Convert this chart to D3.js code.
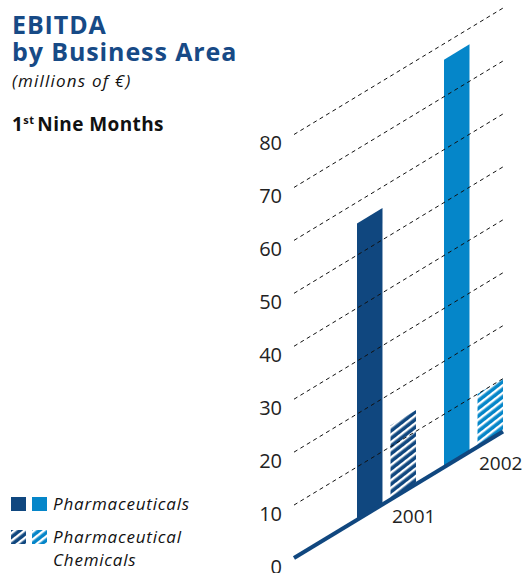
<!DOCTYPE html>
<html>
<head>
<meta charset="utf-8">
<script src="https://cdn.jsdelivr.net/npm/d3@7"></script>
<style>
  body { margin: 0; background: #fff; }
  svg { display: block; font-family: "Open Sans", "Noto Sans", sans-serif; }
</style>
</head>
<body>
<script>
// data (millions of euro, 1st nine months)
var years = ["2001", "2002"];
var series = ["Pharmaceuticals", "Pharmaceutical Chemicals"];
var pharma = [56, 77];
var chemicals = [14, 10];
var ticks = [0, 10, 20, 30, 40, 50, 60, 70, 80];

var W = 524, H = 573;
var darkBlue = "#10477f", lightBlue = "#0586c9", titleBlue = "#174a86";
var slope = 0.605;   // the whole floor is tilted up to the right
var x0 = 294, xEnd = 503;

var svg = d3.select("body").append("svg").attr("width", W).attr("height", H);

var y = d3.scaleLinear().domain([0, 80]).range([558, 134.5]);
function skewY(v, x) { return y(v) - slope * (x - x0); }

var xYear = d3.scaleBand().domain(years).range([357, 503]).paddingInner(0.322).paddingOuter(0);
var xSer = d3.scaleBand().domain(series).range([0, xYear.bandwidth()]).paddingInner(0.24);

// hatch patterns for the chemicals bars
var defs = svg.append("defs");
[["hatchDark", darkBlue], ["hatchLight", lightBlue]].forEach(function(p) {
  var pat = defs.append("pattern").attr("id", p[0]).attr("patternUnits", "userSpaceOnUse")
    .attr("width", 6).attr("height", 6).attr("patternTransform", "rotate(-38)");
  pat.append("rect").attr("width", 6).attr("height", 6).attr("fill", p[1]);
  pat.append("rect").attr("y", 0).attr("width", 6).attr("height", 2.4).attr("fill", "#fff");
});

var bars = [];
years.forEach(function(yr, i) {
  bars.push({ year: yr, ser: series[0], v: pharma[i], fill: i === 0 ? darkBlue : lightBlue });
  bars.push({ year: yr, ser: series[1], v: chemicals[i], fill: i === 0 ? "url(#hatchDark)" : "url(#hatchLight)" });
});

svg.selectAll("path.bar")
  .data(bars)
  .enter()
  .append("path")
  .attr("class", "bar")
  .attr("fill", function(d) { return d.fill; })
  .attr("d", function(d) {
    var a = xYear(d.year) + xSer(d.ser), b = a + xSer.bandwidth();
    return "M" + a + "," + skewY(0, a) + "L" + a + "," + skewY(d.v, a) +
      "L" + b + "," + skewY(d.v, b) + "L" + b + "," + skewY(0, b) + "Z";
  });

// dashed grid lines run over the bars
svg.selectAll("line.grid")
  .data(ticks.filter(function(t) { return t > 0; }))
  .enter()
  .append("line")
  .attr("class", "grid")
  .attr("x1", x0).attr("y1", function(d) { return skewY(d, x0); })
  .attr("x2", xEnd).attr("y2", function(d) { return skewY(d, xEnd); })
  .attr("stroke", "#111").attr("stroke-width", 1)
  .attr("stroke-dasharray", "4,3.5");

// the floor line
svg.append("line")
  .attr("x1", x0).attr("y1", skewY(0, x0))
  .attr("x2", xEnd).attr("y2", skewY(0, xEnd))
  .attr("stroke", darkBlue).attr("stroke-width", 4);

svg.selectAll("text.tick")
  .data(ticks)
  .enter()
  .append("text")
  .attr("class", "tick")
  .attr("x", 282)
  .attr("y", function(d) { return y(d) + 15.5; })
  .attr("text-anchor", "end")
  .attr("font-size", 20)
  .attr("fill", "#222")
  .text(function(d) { return d; });

svg.selectAll("text.year")
  .data(years)
  .enter()
  .append("text")
  .attr("class", "year")
  .attr("x", function(d) { return xYear(d) + 35; })
  .attr("y", function(d) { return skewY(0, xYear(d) + 35) + 24; })
  .attr("font-size", 19)
  .attr("fill", "#222")
  .text(function(d) { return d; });

// titles
svg.append("text").attr("x", 12).attr("y", 34).attr("font-size", 25).attr("font-weight", "bold")
  .attr("letter-spacing", 0.9).attr("fill", titleBlue).text("EBITDA");
svg.append("text").attr("x", 12).attr("y", 61).attr("font-size", 25).attr("font-weight", "bold")
  .attr("letter-spacing", 0.9).attr("fill", titleBlue).text("by Business Area");
svg.append("text").attr("x", 12).attr("y", 87).attr("font-size", 17).attr("font-style", "italic")
  .attr("letter-spacing", 1.2).attr("fill", "#111").text("(millions of €)");
var sub = svg.append("text").attr("x", 12).attr("y", 131).attr("font-size", 19).attr("font-weight", "bold")
  .attr("letter-spacing", 0.4).attr("fill", "#111");
sub.append("tspan").text("1");
sub.append("tspan").attr("font-size", 11).attr("dy", -7).text("st");
sub.append("tspan").attr("dy", 7).attr("dx", 3).text("Nine Months");

// legend
var legend = [
  { fills: [darkBlue, lightBlue], lines: ["Pharmaceuticals"], y: 497 },
  { fills: ["url(#hatchDark)", "url(#hatchLight)"], lines: ["Pharmaceutical", "Chemicals"], y: 530 }
];
legend.forEach(function(l) {
  l.fills.forEach(function(f, i) {
    svg.append("rect").attr("x", 11 + i * 21).attr("y", l.y).attr("width", 15).attr("height", 14).attr("fill", f);
  });
  l.lines.forEach(function(t, i) {
    svg.append("text").attr("x", 53).attr("y", l.y + 13 + i * 23).attr("font-size", 17)
      .attr("letter-spacing", 0.8).attr("font-style", "italic").attr("fill", "#111").text(t);
  });
});
</script>
</body>
</html>
